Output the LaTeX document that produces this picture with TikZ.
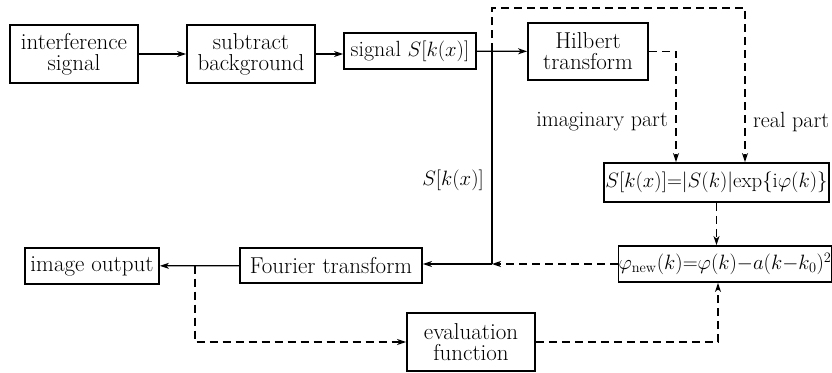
\documentclass[tikz,border=0pt]{standalone}
\usetikzlibrary{arrows.meta,calc}
\begin{document}
\begin{tikzpicture}[x=1pt,y=-1pt,
  box/.style={draw, line width=1.8pt, inner sep=0pt, align=center,
    font=\fontsize{23}{21}\selectfont},
  conn/.style={line width=1.3pt},
  dsh/.style={line width=1.4pt, dash pattern=on 8pt off 5pt},
  arr/.style={-{Stealth[length=9pt,width=6pt,inset=2.5pt]}},
  lbl/.style={font=\fontsize{22}{22}\selectfont, inner sep=0pt}]
\useasboundingbox (0,0) rectangle (832,372);

% processing blocks
\node[box, minimum width=128pt, minimum height=58pt] (intf) at (74,54) {interference\\signal};
\node[box, minimum width=128pt, minimum height=58pt] (sub) at (251,54) {subtract\\background};
\node[box, minimum width=132pt, minimum height=36pt, font=\fontsize{22}{22}\selectfont] (sig) at (410,51) {signal $S[k(x)]$};
\node[box, minimum width=120pt, minimum height=57pt] (hil) at (588,51.5) {Hilbert\\transform};
\node[box, minimum width=225pt, minimum height=39pt, font=\fontsize{20.8}{21}\selectfont] (polar) at (716.5,182.5)
  {$S[k(x)]$=$|S(k)|$exp\{i$\varphi(k)$\}};
\node[box, minimum width=208pt, minimum height=36pt, font=\fontsize{20}{20}\selectfont] (phase) at (725,264)
  {$\varphi_{\mathrm{new}}(k){=}\varphi(k){-}a(k{-}k_0)^2$};
\node[box, minimum width=182pt, minimum height=35pt] (four) at (331,265.5) {Fourier transform};
\node[box, minimum width=134pt, minimum height=36pt] (img) at (92,266) {image output};
\node[box, minimum width=128pt, minimum height=58pt] (eval) at (471,342) {evaluation\\function};

% branch points
\coordinate (split) at (492,51);
\coordinate (join) at (492,264);
\coordinate (tap) at (195,265.5);

% solid signal path
\draw[conn, arr] (intf) -- (sub);
\draw[conn, arr] (sub.east) -- (sub.east -| sig.west);
\draw[conn, arr] (sig) -- (hil);
\draw[conn] (split) -- (join);
\draw[conn, arr] (join) -- (join -| four.east);
\draw[conn, arr] (four) -- (img);

% dashed phase-processing path
\draw[dsh, arr] (split) -- (492,8) -- (745,8) -- (745,0 |- polar.north);
\draw[dsh, arr] (hil.east) -- (676,51.5) -- (676,0 |- polar.north);
\draw[dsh, arr] (polar.south) -- (polar.south |- phase.north);
\draw[dsh, arr] (phase.west) -- (join);
\draw[dsh, arr] (tap) -- (195,342) -- (eval.west);
\draw[dsh, arr] (eval.east) -- (718,342) -- (718,0 |- phase.south);

% labels
\node[lbl, anchor=east] at (668,122) {imaginary part};
\node[lbl, anchor=west] at (753,122) {real part};
\node[lbl, anchor=east] at (484,180) {$S[k(x)]$};
\end{tikzpicture}
\end{document}
